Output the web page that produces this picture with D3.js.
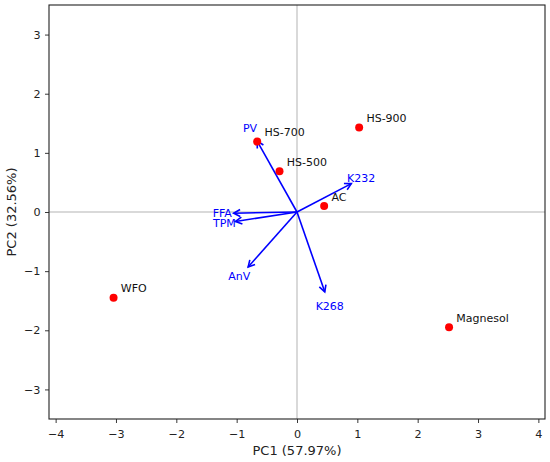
<!DOCTYPE html>
<html>
<head>
<meta charset="utf-8">
<script src="https://cdn.jsdelivr.net/npm/d3@7"></script>
<style>
  body { margin: 0; background: #fff; }
  text { font-family: "DejaVu Sans", sans-serif; }
</style>
</head>
<body>
<div id="chart"></div>
<script>
// samples (PC scores)
var sampleNames = ["WFO", "HS-500", "HS-700", "HS-900", "AC", "Magnesol"];
var sampleX = [-3.04, -0.29, -0.66, 1.03, 0.45, 2.52];
var sampleY = [-1.45, 0.69, 1.19, 1.43, 0.10, -1.95];

// variables (loadings)
var varNames = ["PV", "K232", "FFA", "TPM", "AnV", "K268"];
var varX = [-0.66, 0.90, -1.05, -1.02, -0.81, 0.46];
var varY = [1.20, 0.48, -0.02, -0.16, -0.93, -1.35];

var xTicks = [-4, -3, -2, -1, 0, 1, 2, 3, 4];
var yTicks = [-3, -2, -1, 0, 1, 2, 3];

var W = 550, H = 462;
var margin = {top: 5, right: 5, bottom: 43, left: 49};

function createChart(id) {

    var svg = d3.select(id).append("svg")
                .attr("width", W)
                .attr("height", H);

    var x = d3.scaleLinear().domain([-4.11, 4.11]).range([margin.left, W - margin.right]);
    var y = d3.scaleLinear().domain([-3.5, 3.5]).range([H - margin.bottom, margin.top]);

    // open arrow head
    svg.append("defs").append("marker")
        .attr("id", "head")
        .attr("markerUnits", "userSpaceOnUse")
        .attr("viewBox", "-9 -5 11 10")
        .attr("markerWidth", 11)
        .attr("markerHeight", 10)
        .attr("refX", 0)
        .attr("refY", 0)
        .attr("orient", "auto")
      .append("path")
        .attr("d", "M-6.5,-3.5L0,0L-6.5,3.5")
        .attr("fill", "none")
        .attr("stroke", "#0000ff")
        .attr("stroke-width", 1.6);

    // zero lines
    svg.append("line")
        .attr("x1", x(0)).attr("x2", x(0))
        .attr("y1", y(3.5)).attr("y2", y(-3.5))
        .attr("stroke", "#b3b3b3").attr("stroke-width", 1);
    svg.append("line")
        .attr("x1", x(-4.11)).attr("x2", x(4.11))
        .attr("y1", y(0)).attr("y2", y(0))
        .attr("stroke", "#b3b3b3").attr("stroke-width", 1);

    // axes
    var fmt = d3.format("d");
    var xAxis = svg.append("g")
        .attr("transform", "translate(0," + (H - margin.bottom) + ")")
        .call(d3.axisBottom(x).tickValues(xTicks).tickFormat(fmt).tickSize(4).tickPadding(7).tickSizeOuter(0));
    var yAxis = svg.append("g")
        .attr("transform", "translate(" + margin.left + ",0)")
        .call(d3.axisLeft(y).tickValues(yTicks).tickFormat(fmt).tickSize(4).tickPadding(4.5).tickSizeOuter(0));

    [xAxis, yAxis].forEach(function(a) {
        a.select(".domain").remove();
        a.selectAll(".tick line").attr("stroke", "#222").attr("stroke-width", 0.9);
        a.selectAll(".tick text")
            .attr("font-family", "DejaVu Sans, sans-serif")
            .attr("font-size", 11.2)
            .attr("fill", "#222");
    });

    // frame
    svg.append("rect")
        .attr("x", margin.left)
        .attr("y", margin.top)
        .attr("width", W - margin.left - margin.right)
        .attr("height", H - margin.top - margin.bottom)
        .attr("fill", "none")
        .attr("stroke", "#222")
        .attr("stroke-width", 1.1);

    // loading arrows
    var vars = varNames.map(function(n, i) { return {name: n, x: varX[i], y: varY[i]}; });

    svg.selectAll(".arrow")
        .data(vars)
        .enter().append("line")
        .attr("class", "arrow")
        .attr("x1", x(0))
        .attr("y1", y(0))
        .attr("x2", function(d) { return x(d.x); })
        .attr("y2", function(d) { return y(d.y); })
        .attr("stroke", "#0000ff")
        .attr("stroke-width", 1.6)
        .attr("marker-end", "url(#head)");

    svg.selectAll(".varlabel")
        .data(vars)
        .enter().append("text")
        .attr("class", "varlabel")
        .attr("x", function(d) { return x(d.x * 1.18); })
        .attr("y", function(d) { return y(d.y * 1.18); })
        .attr("text-anchor", "middle")
        .attr("dominant-baseline", "central")
        .attr("font-size", 11)
        .attr("fill", "#0000ff")
        .text(function(d) { return d.name; });

    // sample points
    var samples = sampleNames.map(function(n, i) { return {name: n, x: sampleX[i], y: sampleY[i]}; });

    svg.selectAll(".pt")
        .data(samples)
        .enter().append("circle")
        .attr("class", "pt")
        .attr("cx", function(d) { return x(d.x); })
        .attr("cy", function(d) { return y(d.y); })
        .attr("r", 4)
        .attr("fill", "#ff0000");

    svg.selectAll(".ptlabel")
        .data(samples)
        .enter().append("text")
        .attr("class", "ptlabel")
        .attr("x", function(d) { return x(d.x + 0.12); })
        .attr("y", function(d) { return y(d.y + 0.09); })
        .attr("font-size", 11)
        .attr("fill", "#111")
        .text(function(d) { return d.name; });

    // axis titles
    svg.append("text")
        .attr("x", x(0))
        .attr("y", 455)
        .attr("text-anchor", "middle")
        .attr("font-size", 13)
        .attr("fill", "#222")
        .text("PC1 (57.97%)");

    svg.append("text")
        .attr("transform", "translate(15.5," + y(0) + ") rotate(-90)")
        .attr("text-anchor", "middle")
        .attr("font-size", 13)
        .attr("fill", "#222")
        .text("PC2 (32.56%)");
}

createChart("#chart");
</script>
</body>
</html>
